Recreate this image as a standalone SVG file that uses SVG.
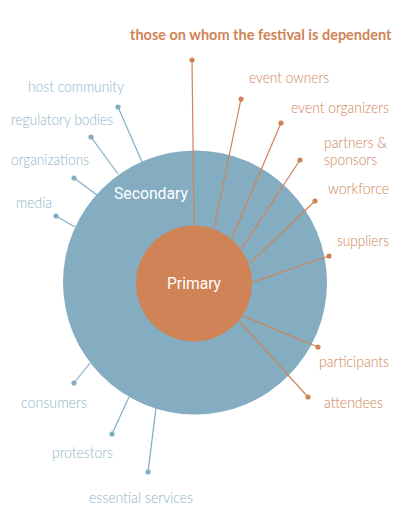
<svg xmlns="http://www.w3.org/2000/svg" width="400" height="530" viewBox="0 0 400 530">
<style>
.lbl{font-family:Lato,"Open Sans","Liberation Sans",sans-serif;font-size:15.5px;font-weight:300}
.o{fill:#d08356}
.b{fill:#8fb5c9}
.lo{stroke:#d08356;stroke-width:1.2;fill:none}
.lb{stroke:#85adc2;stroke-width:1.2;fill:none}
.dot-o{fill:#d08356}
.dot-b{fill:#85adc2}
.in{font-family:Roboto,"Liberation Sans",sans-serif;font-size:16px;fill:#ffffff}
</style>
<rect width="400" height="530" fill="#ffffff"/>
<g id="secondary">
<circle cx="195" cy="282.5" r="132" fill="#85adc2"/>
<text class="in" x="114" y="199" textLength="74" lengthAdjust="spacingAndGlyphs">Secondary</text>
</g>
<g id="connectors">
<line class="lo" x1="192" y1="60" x2="194" y2="225"/>
<line class="lo" x1="241" y1="99" x2="214" y2="228"/>
<line class="lo" x1="281" y1="123" x2="232" y2="238"/>
<line class="lo" x1="300" y1="160" x2="242" y2="248"/>
<line class="lo" x1="315" y1="201" x2="250" y2="263"/>
<line class="lo" x1="329" y1="256" x2="253" y2="282"/>
<line class="lo" x1="318" y1="347" x2="243" y2="316"/>
<line class="lo" x1="308" y1="397" x2="239" y2="321"/>
<line class="lb" x1="118" y1="107" x2="142" y2="162"/>
<line class="lb" x1="91" y1="137" x2="118" y2="174"/>
<line class="lb" x1="74" y1="178" x2="97" y2="195"/>
<line class="lb" x1="56" y1="216" x2="75" y2="227"/>
<line class="lb" x1="74" y1="383" x2="90" y2="363"/>
<line class="lb" x1="112" y1="434" x2="129" y2="397"/>
<line class="lb" x1="148" y1="472" x2="156" y2="408"/>
<circle class="dot-o" cx="192" cy="60" r="2.6"/>
<circle class="dot-o" cx="241" cy="99" r="2.6"/>
<circle class="dot-o" cx="281" cy="123" r="2.6"/>
<circle class="dot-o" cx="300" cy="160" r="2.6"/>
<circle class="dot-o" cx="315" cy="201" r="2.6"/>
<circle class="dot-o" cx="329" cy="256" r="2.6"/>
<circle class="dot-o" cx="318" cy="347" r="2.6"/>
<circle class="dot-o" cx="308" cy="397" r="2.6"/>
<circle class="dot-b" cx="118" cy="107" r="2.6"/>
<circle class="dot-b" cx="91" cy="137" r="2.6"/>
<circle class="dot-b" cx="74" cy="178" r="2.6"/>
<circle class="dot-b" cx="56" cy="216" r="2.6"/>
<circle class="dot-b" cx="74" cy="383" r="2.6"/>
<circle class="dot-b" cx="112" cy="434" r="2.6"/>
<circle class="dot-b" cx="148" cy="472" r="2.6"/>
</g>
<g id="primary">
<circle cx="194" cy="283.5" r="58" fill="#d08356"/>
<text class="in" x="167" y="289" font-size="17" textLength="54" lengthAdjust="spacingAndGlyphs">Primary</text>
</g>
<g id="title">
<text x="130" y="40" font-family="Lato,'Open Sans','Liberation Sans',sans-serif" font-size="14.5" font-weight="bold" fill="#d08356">those on whom the festival is dependent</text>
</g>
<g id="event-owners"><text class="lbl o" x="249" y="83" textLength="80" lengthAdjust="spacingAndGlyphs">event owners</text></g>
<g id="event-organizers"><text class="lbl o" x="291" y="113" textLength="98" lengthAdjust="spacingAndGlyphs">event organizers</text></g>
<g id="partners-sponsors"><text class="lbl o"><tspan x="324" y="148" textLength="63" lengthAdjust="spacingAndGlyphs">partners &amp;</tspan><tspan x="324" y="164.5" textLength="53" lengthAdjust="spacingAndGlyphs">sponsors</tspan></text></g>
<g id="workforce"><text class="lbl o" x="328" y="194" textLength="61" lengthAdjust="spacingAndGlyphs">workforce</text></g>
<g id="suppliers"><text class="lbl o" x="337" y="246" textLength="52" lengthAdjust="spacingAndGlyphs">suppliers</text></g>
<g id="participants"><text class="lbl o" x="319" y="367" textLength="70" lengthAdjust="spacingAndGlyphs">participants</text></g>
<g id="attendees"><text class="lbl o" x="324" y="408" textLength="59" lengthAdjust="spacingAndGlyphs">attendees</text></g>
<g id="host-community"><text class="lbl b" x="28" y="92" textLength="96" lengthAdjust="spacingAndGlyphs">host community</text></g>
<g id="regulatory-bodies"><text class="lbl b" x="11" y="125" textLength="102" lengthAdjust="spacingAndGlyphs">regulatory bodies</text></g>
<g id="organizations"><text class="lbl b" x="11" y="165" textLength="78" lengthAdjust="spacingAndGlyphs">organizations</text></g>
<g id="media"><text class="lbl b" x="16" y="208" textLength="36" lengthAdjust="spacingAndGlyphs">media</text></g>
<g id="consumers"><text class="lbl b" x="21" y="408" textLength="66" lengthAdjust="spacingAndGlyphs">consumers</text></g>
<g id="protestors"><text class="lbl b" x="52" y="458" textLength="61" lengthAdjust="spacingAndGlyphs">protestors</text></g>
<g id="essential-services"><text class="lbl b" x="89" y="503" textLength="104" lengthAdjust="spacingAndGlyphs">essential services</text></g>
</svg>
